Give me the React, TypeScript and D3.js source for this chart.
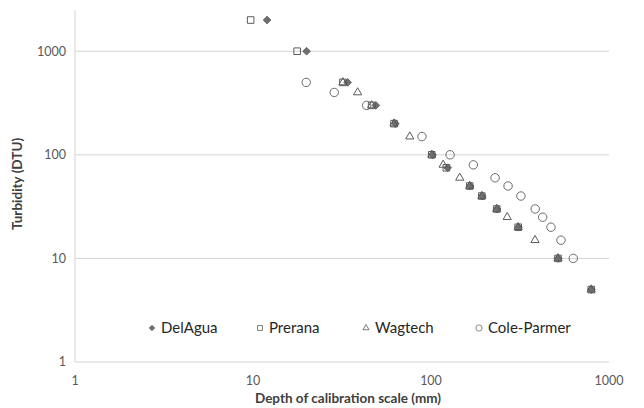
import React, { useEffect, useRef } from 'react';
import * as d3 from 'd3';

// depth (mm) / turbidity (DTU)
const delAguaDepth = [12, 20, 34, 49, 63, 102, 124, 166, 194, 235, 310, 518, 796];
const delAguaTurb = [2000, 1000, 500, 300, 200, 100, 75, 50, 40, 30, 20, 10, 5];

const preranaDepth = [9.7, 17.7, 32, 46.4, 62, 101, 122, 165, 193, 234, 309, 517, 795];
const preranaTurb = [2000, 1000, 500, 300, 200, 100, 75, 50, 40, 30, 20, 10, 5];

const wagtechDepth = [32, 38.7, 46.4, 62, 76, 101, 117, 145, 165, 193, 234, 268, 309, 384, 517, 795];
const wagtechTurb = [500, 400, 300, 200, 150, 100, 80, 60, 50, 40, 30, 25, 20, 15, 10, 5];

const coleDepth = [19.9, 28.6, 43.5, 89, 128, 173, 229, 271, 320, 385, 424, 472, 537, 630];
const coleTurb = [500, 400, 300, 150, 100, 80, 60, 50, 40, 30, 25, 20, 15, 10];

const seriesNames = ['DelAgua', 'Prerana', 'Wagtech', 'Cole-Parmer'];
const xTicks = [1, 10, 100, 1000];
const yTicks = [1, 10, 100, 1000];

const FONT = 'Lato, "Open Sans", sans-serif';

const App: React.FC = () => {
  const ref = useRef<SVGSVGElement | null>(null);

  useEffect(() => {
    const width = 644;
    const height = 408;
    const margin = { top: 10, right: 35, bottom: 46, left: 75 };

    const svg = d3.select(ref.current);
    svg.selectAll('*').remove();
    svg.attr('width', width).attr('height', height);

    svg.append('rect').attr('width', width).attr('height', height).attr('fill', 'white');

    const x = d3.scaleLog().domain([1, 1000]).range([margin.left, width - margin.right]);
    const y = d3.scaleLog().domain([1, 2500]).range([height - margin.bottom, margin.top]);

    // horizontal gridlines
    svg.append('g')
      .selectAll('line')
      .data(yTicks)
      .enter().append('line')
      .attr('x1', margin.left)
      .attr('x2', width - margin.right)
      .attr('y1', d => y(d))
      .attr('y2', d => y(d))
      .attr('stroke', '#d4d4d4')
      .attr('stroke-width', 1);

    // vertical axis line
    svg.append('line')
      .attr('x1', margin.left).attr('x2', margin.left)
      .attr('y1', margin.top).attr('y2', height - margin.bottom)
      .attr('stroke', '#d4d4d4');

    // tick labels
    svg.append('g')
      .selectAll('text')
      .data(yTicks)
      .enter().append('text')
      .attr('x', margin.left - 9)
      .attr('y', d => y(d))
      .attr('dy', '0.35em')
      .attr('text-anchor', 'end')
      .attr('font-family', FONT)
      .attr('font-size', 12.5)
      .attr('fill', '#595959')
      .text(d => String(d));

    svg.append('g')
      .selectAll('text')
      .data(xTicks)
      .enter().append('text')
      .attr('x', d => x(d))
      .attr('y', height - margin.bottom + 19)
      .attr('dy', '0.35em')
      .attr('text-anchor', 'middle')
      .attr('font-family', FONT)
      .attr('font-size', 12.5)
      .attr('fill', '#595959')
      .text(d => String(d));

    // axis titles
    svg.append('text')
      .attr('x', (margin.left + width - margin.right) / 2 + 6)
      .attr('y', 398)
      .attr('dy', '0.35em')
      .attr('text-anchor', 'middle')
      .attr('font-family', FONT)
      .attr('font-weight', 'bold')
      .attr('font-size', 13.5)
      .attr('fill', '#404040')
      .text('Depth of calibration scale (mm)');

    svg.append('text')
      .attr('transform', `translate(17,${(margin.top + height - margin.bottom) / 2 - 2}) rotate(-90)`)
      .attr('dy', '0.35em')
      .attr('text-anchor', 'middle')
      .attr('font-family', FONT)
      .attr('font-weight', 'bold')
      .attr('font-size', 13.5)
      .attr('fill', '#404040')
      .text('Turbidity (DTU)');

    const diamond = d3.symbol().type(d3.symbolDiamond2).size(38)()!;
    const square = d3.symbol().type(d3.symbolSquare2).size(55)()!;
    const triangle = d3.symbol().type(d3.symbolTriangle2).size(48)()!;
    const circle = d3.symbol().type(d3.symbolCircle).size(56)()!;

    const series = [
      { depth: delAguaDepth, turb: delAguaTurb, path: diamond, fill: '#6e6e6e', stroke: '#6e6e6e' },
      { depth: preranaDepth, turb: preranaTurb, path: square, fill: 'none', stroke: '#5a5a5a' },
      { depth: wagtechDepth, turb: wagtechTurb, path: triangle, fill: 'none', stroke: '#5a5a5a' },
      { depth: coleDepth, turb: coleTurb, path: circle, fill: 'none', stroke: '#6a6a6a' },
    ];

    series.forEach(s => {
      const pts = s.depth.map((d, i) => [d, s.turb[i]] as [number, number]);
      svg.append('g')
        .selectAll('path')
        .data(pts)
        .enter().append('path')
        .attr('d', s.path)
        .attr('transform', d => `translate(${x(d[0])},${y(d[1])})`)
        .attr('fill', s.fill)
        .attr('stroke', s.stroke)
        .attr('stroke-width', 1);
    });

    // legend
    const legendX = [152, 260, 366, 479];
    const legendPaths = [
      d3.symbol().type(d3.symbolDiamond2).size(20)()!,
      d3.symbol().type(d3.symbolSquare2).size(30)()!,
      d3.symbol().type(d3.symbolTriangle2).size(26)()!,
      d3.symbol().type(d3.symbolCircle).size(30)()!,
    ];
    const legendY = 328;
    const lg = svg.append('g');
    seriesNames.forEach((name, i) => {
      lg.append('path')
        .attr('d', legendPaths[i])
        .attr('transform', `translate(${legendX[i]},${legendY})`)
        .attr('fill', series[i].fill)
        .attr('stroke', series[i].stroke)
        .attr('stroke-width', 0.8);
      lg.append('text')
        .attr('x', legendX[i] + 9)
        .attr('y', legendY)
        .attr('dy', '0.35em')
        .attr('font-family', FONT)
        .attr('font-size', 15)
        .attr('fill', '#262626')
        .text(name);
    });
  }, []);

  return (
    <div style={{ position: 'absolute', left: 0, top: 0 }}>
      <svg ref={ref}></svg>
    </div>
  );
};

export default App;
